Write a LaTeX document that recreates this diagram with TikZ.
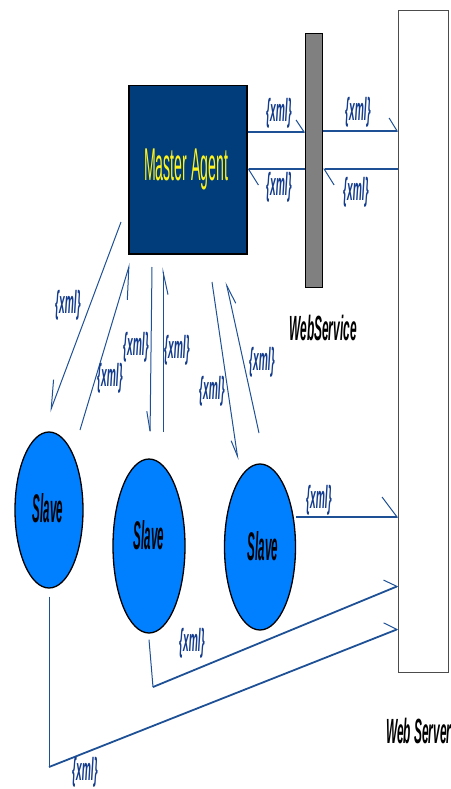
\documentclass[tikz,border=0pt]{standalone}
\usepackage{fontspec}
\setmainfont{Liberation Sans}
\usepackage{graphicx}
\usetikzlibrary{arrows.meta,shapes.geometric}
\definecolor{navy}{RGB}{0,61,122}
\definecolor{slaveblue}{RGB}{0,128,255}
\definecolor{linkblue}{RGB}{30,80,150}
\definecolor{xmlblue}{RGB}{20,60,140}
\definecolor{bargray}{RGB}{128,128,128}
\tikzset{
  lnk/.style={draw=linkblue, line width=1pt},
  hlnk/.style={draw=linkblue, line width=1.8pt},
  tipL/.style 2 args={-{Straight Barb[harpoon,length=#1,width=#2,line width=1pt]}},
  tipR/.style 2 args={-{Straight Barb[harpoon,swap,length=#1,width=#2,line width=1pt]}},
  xmll/.style={text=xmlblue, inner sep=0pt, font=\fontsize{32}{32}\selectfont\bfseries\itshape},
  slavenode/.style={ellipse, draw=black, line width=1.3pt, fill=slaveblue, inner sep=0pt},
  slavetxt/.style={inner sep=0pt, font=\fontsize{40}{40}\selectfont\bfseries\itshape},
  blacklab/.style={inner sep=0pt, anchor=base, font=\fontsize{35}{35}\selectfont\bfseries\itshape}
}
\newcommand{\xmlt}{\scalebox{0.32}[1]{\{xml\}}}
\begin{document}
\begin{tikzpicture}[x=1pt,y=-1pt]
\useasboundingbox (0,0) rectangle (450,789);
% boxes
\node[draw=gray!60!black, line width=1.3pt, fill=white, minimum width=50pt, minimum height=662pt, anchor=north west, inner sep=0pt] (ws) at (398,10) {};
\node[draw=black, line width=1.2pt, fill=bargray, minimum width=17pt, minimum height=254pt, anchor=north west, inner sep=0pt] (bar) at (305,33) {};
\node[draw=black, line width=1.5pt, fill=navy, minimum width=118pt, minimum height=168pt, anchor=north west, inner sep=0pt] (ma) at (128,85) {};
\node[inner sep=0pt, text=yellow!90!white, font=\fontsize{46}{46}\selectfont] (mat) at (186,169) {\scalebox{0.307}[1]{Master Agent}};
% slaves
\node[slavenode, minimum width=68pt, minimum height=156pt] (s1) at (49,510) {};
\node[slavenode, minimum width=72pt, minimum height=174pt] (s2) at (149,546) {};
\node[slavenode, minimum width=71pt, minimum height=166pt] (s3) at (260,547) {};
\node[slavetxt] (t1) at (48,508) {\scalebox{0.29}[1]{Slave}};
\node[slavetxt] (t2) at (149,535) {\scalebox{0.29}[1]{Slave}};
\node[slavetxt] (t3) at (263,546) {\scalebox{0.29}[1]{Slave}};
% labels
\node[blacklab] (wsl) at (323,340) {\scalebox{0.34}[1]{WebService}};
\node[blacklab, anchor=base west] (wsv) at (386,743) {\scalebox{0.34}[1]{Web Server}};
% master <-> webservice <-> web server
\draw[hlnk, tipL={8pt}{24pt}] (ma.east |- 0,132) -- (bar.west |- 0,132);
\draw[hlnk, tipL={10pt}{32pt}] (bar.west |- 0,169) -- (ma.east |- 0,169);
\draw[hlnk, tipL={8pt}{26pt}] (bar.east |- 0,131) -- (ws.west |- 0,131);
\draw[hlnk, tipL={10pt}{32pt}] (ws.west |- 0,169) -- (bar.east |- 0,169);
\node[xmll] (x1) at (279,113) {\xmlt};
\node[xmll] (x2) at (358,112) {\xmlt};
\node[xmll] (x3) at (279,187) {\xmlt};
\node[xmll] (x4) at (356,192) {\xmlt};
% master <-> slaves
\coordinate (m1) at (121,222); \coordinate (e1) at (50,412);
\coordinate (b2) at (80,430);   \coordinate (m2) at (130,263);
\coordinate (m3) at (152,267);  \coordinate (e3) at (150,437);
\coordinate (b4) at (163,432);  \coordinate (m4) at (163,267);
\coordinate (m5) at (212,282);  \coordinate (e5) at (238,460);
\coordinate (b6) at (259,433);  \coordinate (m6) at (226,282);
\draw[lnk, tipR={28pt}{16pt}] (m1) -- (e1);
\draw[lnk, tipR={32pt}{16pt}] (b2) -- (m2);
\draw[lnk, tipR={20pt}{7pt}] (m3) -- (e3);
\draw[lnk, tipR={23pt}{10pt}] (b4) -- (m4);
\draw[lnk, tipR={16pt}{8pt}] (m5) -- (e5);
\draw[lnk, tipR={19pt}{10pt}] (b6) -- (m6);
\node[xmll] (x5) at (68,305) {\xmlt};
\node[xmll] (x6) at (110,378) {\xmlt};
\node[xmll] (x7) at (136,347) {\xmlt};
\node[xmll] (x8) at (177,350) {\xmlt};
\node[xmll] (x9) at (212,391) {\xmlt};
\node[xmll] (x10) at (262,362) {\xmlt};
% slaves -> web server
\draw[hlnk, tipL={15pt}{40pt}] (s3.east |- 0,517) -- (ws.west |- 0,517);
\node[xmll] (x11) at (319,500) {\xmlt};
\coordinate (c2) at (153,687);
\coordinate (c1) at (49,767);
\draw[lnk] ([yshift=-6pt]s2.south) -- (c2);
\draw[hlnk, tipL={10pt}{22pt}] (c2) -- (ws.west |- 0,586);
\node[xmll] (x12) at (192,643) {\xmlt};
\draw[lnk] ([yshift=-8pt]s1.south) -- (c1);
\draw[hlnk, tipL={10pt}{22pt}] (c1) -- (ws.west |- 0,629);
\node[xmll] (x13) at (85,772) {\xmlt};
\end{tikzpicture}
\end{document}
